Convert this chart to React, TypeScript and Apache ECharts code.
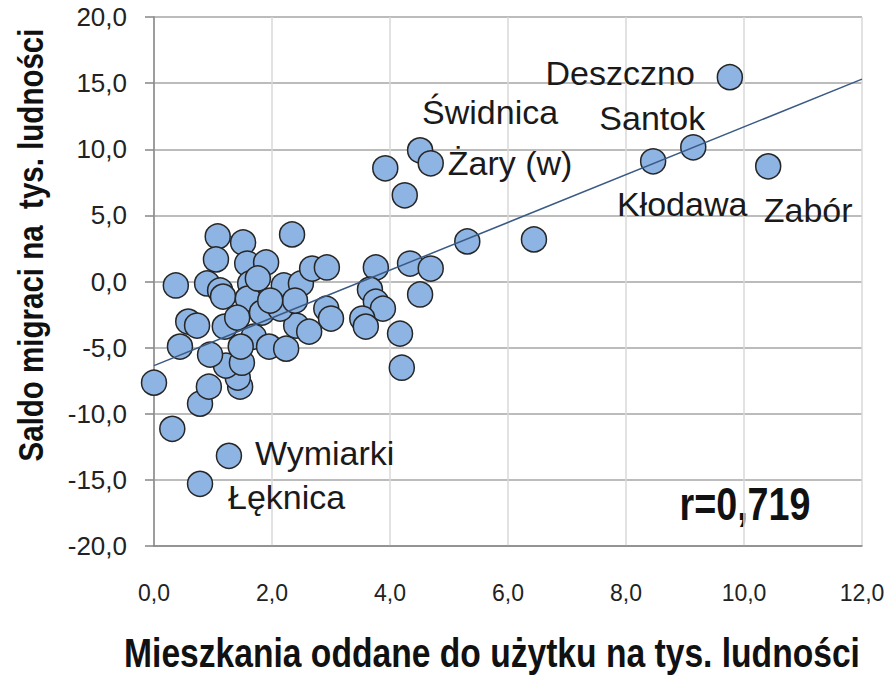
import React, { useEffect, useRef } from "react";
import * as echarts from "echarts";

// Named municipalities (labelled points)
const namedLabels = ["Deszczno", "Santok", "Kłodawa", "Zabór", "Świdnica", "Żary (w)", "Wymiarki", "Łęknica"];
const namedX = [9.76, 9.14, 8.46, 10.41, 4.51, 4.69, 1.27, 0.78];
const namedY = [15.45, 10.15, 9.09, 8.71, 9.92, 8.94, -13.18, -15.3];

// Other municipalities
const otherX = [
  6.44, 5.31, 3.92, 4.25, 4.34, 4.69, 4.51, 3.76, 3.66, 3.76, 3.88, 3.53, 3.59, 4.17, 4.2,
  0.31, 0.0, 0.37, 0.78, 0.93, 1.46, 1.42, 1.22, 1.49, 0.95, 0.44, 0.58, 0.73, 1.2, 1.69,
  1.08, 1.51, 2.34, 1.05, 1.58, 1.9, 0.9, 1.12, 1.17, 1.63, 1.59, 2.2, 2.49, 2.68, 2.93,
  1.83, 1.41, 1.95, 2.24, 2.41, 2.63, 2.92, 3.0, 2.14, 1.76, 2.39, 1.47, 1.97,
];
const otherY = [
  3.18, 3.03, 8.56, 6.52, 1.36, 0.98, -0.98, 1.06, -0.61, -1.52, -2.05, -2.8, -3.41, -3.94, -6.52,
  -11.14, -7.65, -0.3, -9.24, -7.95, -7.95, -7.27, -6.36, -6.14, -5.53, -4.92, -3.03, -3.33, -3.41, -4.17,
  3.41, 2.95, 3.56, 1.67, 1.36, 1.44, -0.15, -0.68, -1.14, -0.15, -1.29, -0.3, -0.15, 0.98, 1.06,
  -2.35, -2.73, -4.92, -5.08, -3.33, -3.79, -2.05, -2.8, -2.05, 0.23, -1.44, -4.92, -1.44,
];

// Linear trend line endpoints
const trendX = [0, 12];
const trendY = [-6.36, 15.3];

const xTicks = { min: 0, max: 12, interval: 2 };
const yTicks = { min: -20, max: 20, interval: 5 };

const xTitle = "Mieszkania oddane do użytku na tys. ludności";
const yTitle = "Saldo migraci na  tys. ludności";
const rText = "r=0,719";

const FONT = "'Liberation Sans', Arial, sans-serif";

// label placement per named point (style only)
const labelPlacement: Record<string, { align: string; offset: [number, number] }> = {
  "Deszczno": { align: "right", offset: [-35, -4] },
  "Santok": { align: "center", offset: [-41, -29] },
  "Kłodawa": { align: "center", offset: [29, 43] },
  "Zabór": { align: "center", offset: [40, 44] },
  "Świdnica": { align: "center", offset: [70, -38] },
  "Żary (w)": { align: "left", offset: [17, 0] },
  "Wymiarki": { align: "left", offset: [26, -3] },
  "Łęknica": { align: "left", offset: [28, 13] },
};

const fmt = (v: number) => v.toFixed(1).replace(".", ",");

export default function App() {
  const ref = useRef<HTMLDivElement>(null);
  useEffect(() => {
    if (!ref.current) return;
    const chart = echarts.init(ref.current, null, { renderer: "svg" });

    const scatterData: any[] = [];
    otherX.forEach((x, i) => scatterData.push({ value: [x, otherY[i]] }));
    namedLabels.forEach((name, i) => {
      const p = labelPlacement[name];
      scatterData.push({
        name,
        value: [namedX[i], namedY[i]],
        label: {
          show: true,
          formatter: name,
          position: "inside",
          align: p.align,
          verticalAlign: "middle",
          offset: p.offset,
          fontFamily: FONT,
          fontSize: 34,
          color: "#1a1a1a",
        },
      });
    });

    chart.setOption({
      animation: false,
      backgroundColor: "#ffffff",
      grid: { left: 154, right: 27, top: 17, bottom: 132, containLabel: false },
      xAxis: {
        type: "value",
        min: xTicks.min,
        max: xTicks.max,
        interval: xTicks.interval,
        axisLine: { show: true, onZero: false, lineStyle: { color: "#868686", width: 1.5 } },
        axisTick: { show: false },
        axisLabel: {
          formatter: (v: number) => fmt(v),
          fontFamily: FONT,
          fontSize: 23,
          color: "#222",
          margin: 35,
        },
        splitLine: { show: true, lineStyle: { color: "#d9d9d9", width: 1.5 } },
      },
      yAxis: {
        type: "value",
        min: yTicks.min,
        max: yTicks.max,
        interval: yTicks.interval,
        axisLine: { show: true, onZero: false, lineStyle: { color: "#868686", width: 1.5 } },
        axisTick: { show: true, inside: false, length: 9, lineStyle: { color: "#868686", width: 1.5 } },
        axisLabel: {
          formatter: (v: number) => fmt(v),
          fontFamily: FONT,
          fontSize: 26,
          color: "#222",
          margin: 27,
        },
        splitLine: { show: true, lineStyle: { color: "#a6a6a6", width: 1.5 } },
      },
      series: [
        {
          type: "scatter",
          symbol: "circle",
          symbolSize: 25,
          itemStyle: { color: "#8db4e2", borderColor: "#262626", borderWidth: 1.5, opacity: 1 },
          data: scatterData,
          z: 2,
        },
        {
          type: "line",
          data: trendX.map((x, i) => [x, trendY[i]]),
          showSymbol: false,
          symbol: "none",
          lineStyle: { color: "#3a5a85", width: 1.5 },
          z: 3,
        },
      ],
      graphic: [
        {
          type: "text",
          x: 492,
          y: 653,
          scaleX: 0.82,
          style: {
            text: xTitle,
            textAlign: "center",
            textVerticalAlign: "middle",
            font: `bold 41px ${FONT}`,
            fill: "#111",
          },
        },
        {
          type: "text",
          x: 30,
          y: 245,
          rotation: Math.PI / 2,
          scaleX: 0.82,
          style: {
            text: yTitle,
            textAlign: "center",
            textVerticalAlign: "middle",
            font: `bold 36px ${FONT}`,
            fill: "#111",
          },
        },
        {
          type: "text",
          x: 745,
          y: 504,
          scaleX: 0.82,
          style: {
            text: rText,
            textAlign: "center",
            textVerticalAlign: "middle",
            font: `bold 46px ${FONT}`,
            fill: "#111",
          },
        },
      ],
    });
    return () => chart.dispose();
  }, []);
  return (
    <div
      ref={ref}
      style={{ width: 889, height: 678, position: "absolute", left: 0, top: 0, background: "#fff" }}
    />
  );
}
